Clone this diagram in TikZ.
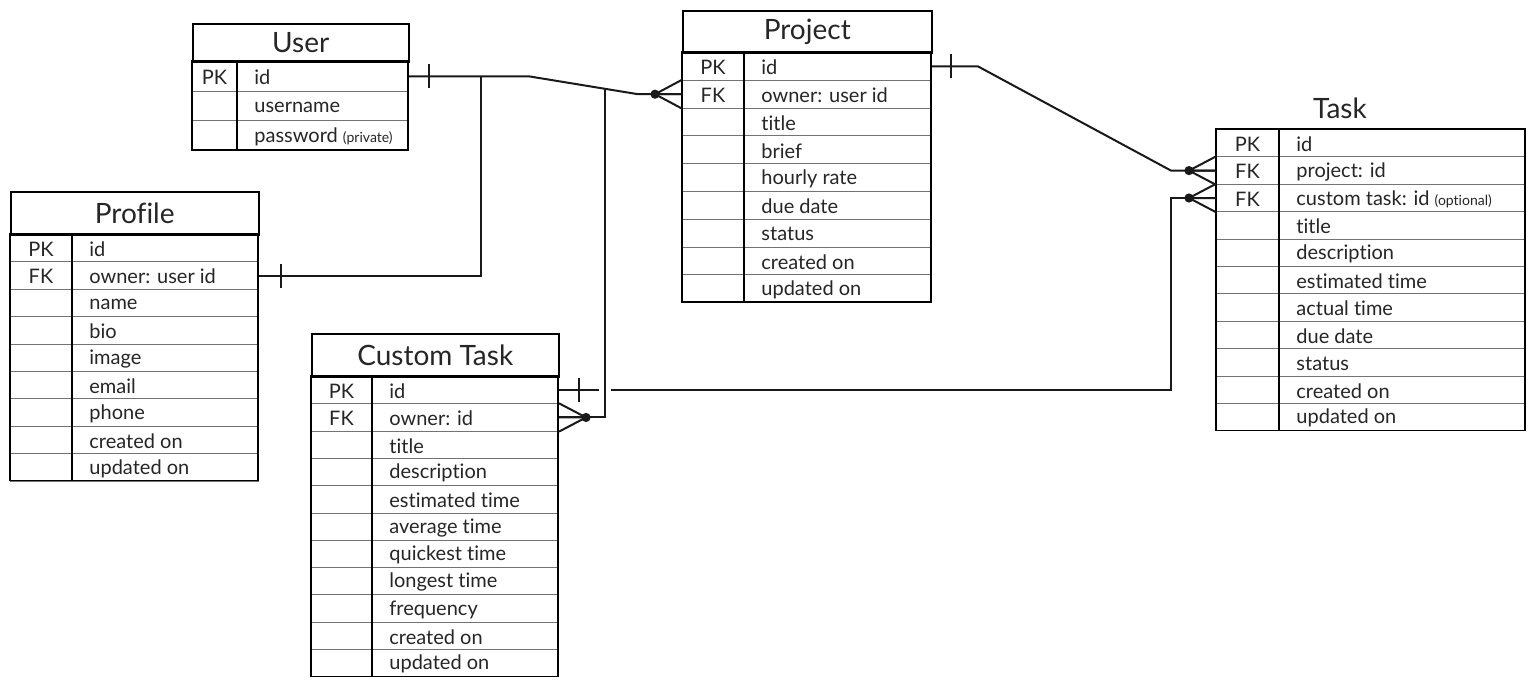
\documentclass[tikz,border=0pt]{standalone}
\usepackage{fontspec}
\setmainfont{Lato}[Ligatures={NoCommon}]
\usetikzlibrary{calc,positioning}

\newcommand{\px}{0.5pt}

\tikzset{
  x=0.5pt, y=-0.5pt,
  header/.style={draw=black, line width=0.75pt, anchor=north west, inner sep=0pt,
    font=\fontsize{14}{16}\selectfont, text=black!85},
  row/.style={draw=black!55, line width=0.5pt, inner sep=0pt, anchor=north west},
  keytext/.style={inner sep=0pt, font=\fontsize{10}{12}\selectfont, text=black!85},
  fieldtext/.style={anchor=west, inner sep=0pt, font=\fontsize{10}{12}\selectfont, text=black!85},
  outer/.style={draw=black, line width=0.75pt},
  link/.style={draw=black!90, line width=1pt},
}

% #1 name, #2 left, #3 top, #4 right, #5 key divider, #6 row height, #7 rows
\newcommand{\ertable}[7]{%
  \foreach [count=\i] \k/\f in {#7} {
    \node[row, minimum width={(#4-#2)*\px}, minimum height={#6*\px}]
      (#1-\i) at (#2,{#3+(\i-1)*#6}) {};
    \node[keytext] at ({(#2+#5)/2},{#3+(\i-0.5)*#6+1.5}) {\k};
    \node[fieldtext] at (#5+17,{#3+(\i-0.5)*#6+1.5}) {\f};
    \xdef\lastrow{\i}
  }
  \pgfmathsetmacro\tablebottom{#3+\lastrow*#6}
  \draw[outer] (#2,#3) rectangle (#4,\tablebottom);
  \draw[outer] (#5,#3) -- (#5,\tablebottom);
}

% #1 row node, #2 anchor, #3 direction
\newcommand{\crowfoot}[3]{%
  \coordinate (cf) at ($(#1.#2)+(#3*27,0)$);
  \fill[black!90] (cf) circle[radius=2.3pt];
  \draw[link] (#1.#2 |- #1.north) -- (cf) -- (#1.#2);
  \draw[link] (#1.#2 |- #1.south) -- (cf);
}

% #1 row node, #2 anchor, #3 offset
\newcommand{\onebar}[3]{%
  \draw[link] ($(#1.#2)+(#3,-12)$) -- ($(#1.#2)+(#3,12)$);
}

\newcommand{\smallnote}[1]{{\fontsize{7}{8}\selectfont #1}}

\begin{document}
\begin{tikzpicture}

    \useasboundingbox[fill=white] (0,0) rectangle (1535,686);

    % Tables.
    \node[header, minimum width={216*\px}, minimum height={38*\px}] (user) at (192,23) {User};
    \ertable{user}{192}{61}{408}{237}{29.7}{PK/id, /username, /{password \smallnote{(private)}}}

    \node[header, minimum width={249*\px}, minimum height={42*\px}] (project) at (682,10) {Project};
    \ertable{project}{682}{52}{931}{744}{27.8}{PK/id, FK/{owner: user id}, /title, /brief,
      /hourly rate, /due date, /status, /created on, /updated on}

    \node[header, minimum width={248*\px}, minimum height={43*\px}] (profile) at (10,191) {Profile};
    \ertable{profile}{10}{234}{258}{72}{27.4}{PK/id, FK/{owner: user id}, /name, /bio,
      /image, /email, /phone, /created on, /updated on}

    \node[header, minimum width={247*\px}, minimum height={43*\px}] (custom) at (311,333) {Custom Task};
    \ertable{custom}{311}{376}{558}{372}{27.3}{PK/id, FK/{owner: id}, /title, /description,
      /estimated time, /average time, /quickest time, /longest time, /frequency,
      /created on, /updated on}

    \node[header, draw=none, anchor=center] (task) at (1340,108) {Task};
    \ertable{task}{1216}{129}{1525}{1279}{27.4}{PK/id, FK/{project: id},
      FK/{custom task: id \smallnote{(optional)}}, /title, /description, /estimated time,
      /actual time, /due date, /status, /created on, /updated on}

    % User to Project.
    \coordinate (j1) at ($(user-1.east)+(120,0)$);
    \coordinate (j2) at ($(project-2.west)+(-44,0)$);
    \draw[link] (user-1.east) -- (j1) -- (j2) -- (project-2.west);
    \crowfoot{project-2}{west}{-1}
    \onebar{user-1}{east}{20}

    % User to Profile.
    \draw[link] (profile-2.east) -| ($(user-1.east)+(72,0)$);
    \onebar{profile-2}{east}{22}

    % User to Custom Task.
    \coordinate (j3) at ($(j1)!0.7!(j2)$);
    \draw[link] (custom-2.east) -| (j3);
    \crowfoot{custom-2}{east}{1}

    % Project to Task.
    \draw[link] (project-1.east) -- ++(46,0) -- ($(task-2.west)+(-45,0)$) -- (task-2.west);
    \crowfoot{task-2}{west}{-1}
    \onebar{project-1}{east}{19}

    % Custom Task to Task.
    \coordinate (gap) at (j3 |- custom-1.east);
    \draw[link] (custom-1.east) -- ($(gap)+(-6,0)$);
    \draw[link] ($(gap)+(6,0)$) -| ($(task-3.west)+(-45,0)$) -- (task-3.west);
    \crowfoot{task-3}{west}{-1}
    \onebar{custom-1}{east}{20}

\end{tikzpicture}
\end{document}
